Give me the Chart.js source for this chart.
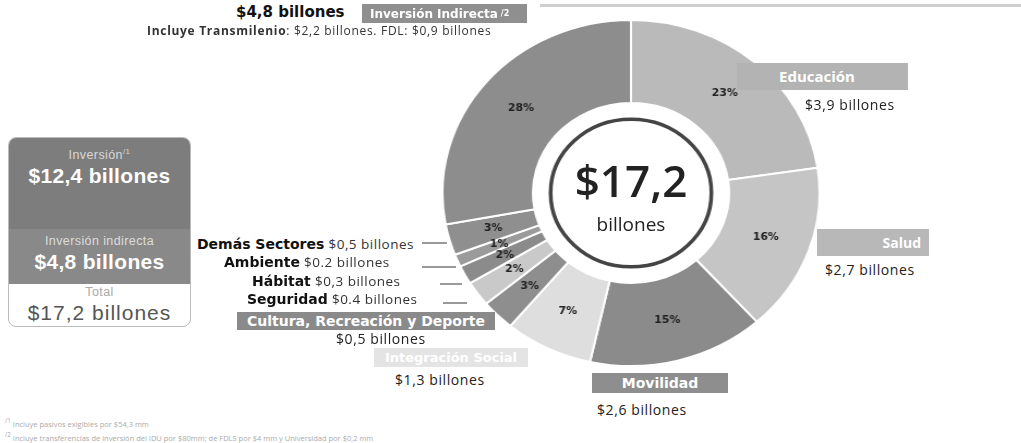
<!DOCTYPE html>
<html>
<head>
<meta charset="utf-8">
<script src="https://cdn.jsdelivr.net/npm/chart.js@4.4.1/dist/chart.umd.min.js"></script>
<style>
  html,body{margin:0;padding:0;background:#fff;}
  body{width:1021px;height:443px;position:relative;overflow:hidden;font-family:"Open Sans",sans-serif;color:#222;}
  .abs{position:absolute;white-space:nowrap;}
  .box{position:absolute;color:#fff;font-family:"DejaVu Sans",sans-serif;font-weight:bold;font-size:12px;line-height:1;display:flex;align-items:center;box-sizing:border-box;white-space:nowrap;}
  .val{font-family:"Open Sans",sans-serif;font-size:14px;letter-spacing:0.6px;color:#222;}
  .lbl b{font-family:"DejaVu Sans",sans-serif;font-size:14px;color:#111;}
  .lbl span{font-family:"Open Sans",sans-serif;font-size:13.5px;letter-spacing:0.5px;color:#333;}
  .ln{position:absolute;height:2px;background:#999;}
  #lbox{position:absolute;left:8px;top:137px;width:183px;height:190px;border:1px solid #bbb;border-radius:8px;overflow:hidden;box-sizing:border-box;font-family:"Liberation Sans",Arial,sans-serif;text-align:center;}
  #lbox .s{position:absolute;left:0;width:100%;}
  .sm{font-size:12.5px;letter-spacing:0.4px;}
  .big{font-size:21px;font-weight:bold;letter-spacing:0.3px;}
</style>
</head>
<body>
<div class="abs" style="left:540px;top:4px;width:481px;height:3px;background:#cfcfcf;"></div>

<div id="lbox">
  <div class="s" style="top:0;height:91px;background:#7d7d7d;"></div>
  <div class="s" style="top:91px;height:55px;background:#898989;"></div>
  <div class="abs sm" style="left:0;width:100%;top:9px;color:#d8d8d8;">Inversión<sup style="font-size:8px">/1</sup></div>
  <div class="abs big" style="left:0;width:100%;top:26px;color:#fff;">$12,4 billones</div>
  <div class="abs sm" style="left:0;width:100%;top:96px;color:#dcdcdc;">Inversión indirecta</div>
  <div class="abs big" style="left:0;width:100%;top:112px;color:#fff;">$4,8 billones</div>
  <div class="abs sm" style="left:0;width:100%;top:147px;color:#aaa;">Total</div>
  <div class="abs" style="left:0;width:100%;top:163px;color:#555;font-size:21px;letter-spacing:1px;">$17,2 billones</div>
</div>

<canvas id="c" width="348" height="348" style="position:absolute;left:457px;top:19px;width:348px;height:348px;transform:scaleX(1.09);transform-origin:50% 50%;"></canvas>

<div class="abs" style="left:556px;top:158px;width:150px;text-align:center;font-family:'Open Sans',sans-serif;font-size:44px;font-weight:600;color:#222;line-height:1;">$17,2</div>
<div class="abs" style="left:556px;top:211px;width:150px;text-align:center;font-family:'Open Sans',sans-serif;font-size:19px;color:#222;">billones</div>

<!-- top label -->
<div class="abs" style="left:236px;top:3px;font-family:'DejaVu Sans',sans-serif;font-weight:bold;font-size:15px;color:#111;">$4,8 billones</div>
<div class="box" style="left:362px;top:4px;width:165px;height:19px;background:#8f8f8f;padding-left:8px;">Inversión Indirecta<sup style="font-size:8px;margin-left:3px;">/2</sup></div>
<div class="abs" style="left:147px;top:22px;font-size:12px;letter-spacing:0.7px;color:#333;"><b>Incluye Transmilenio</b>: $2,2 billones. FDL: $0,9 billones</div>

<!-- right labels -->
<div class="box" style="left:737px;top:63px;width:171px;height:27px;background:#b3b3b3;padding-left:42px;font-family:'Open Sans',sans-serif;font-size:15px;">Educación</div>
<div class="abs val" style="left:805px;top:95px;">$3,9 billones</div>
<div class="box" style="left:817px;top:229px;width:112px;height:27px;background:#b8b8b8;justify-content:flex-end;padding-right:8px;font-family:'Open Sans',sans-serif;font-size:14px;">Salud</div>
<div class="abs val" style="left:825px;top:260px;">$2,7 billones</div>
<div class="box" style="left:592px;top:373px;width:136px;height:20px;background:#8e8e8e;justify-content:center;font-family:'DejaVu Sans',sans-serif;font-size:14px;">Movilidad</div>
<div class="abs val" style="left:597px;top:400px;">$2,6 billones</div>

<!-- bottom-left labels -->
<div class="box" style="left:374px;top:348px;width:154px;height:19px;background:#e4e4e4;justify-content:center;font-size:13px;">Integración Social</div>
<div class="abs val" style="left:395px;top:370px;">$1,3 billones</div>
<div class="box" style="left:237px;top:312px;width:258px;height:18px;background:#8a8a8a;justify-content:center;font-size:14px;">Cultura, Recreación y Deporte</div>
<div class="abs val" style="left:336px;top:329px;">$0,5 billones</div>

<div class="abs lbl" style="left:197px;top:232px;"><b>Demás Sectores</b> <span>$0,5 billones</span></div>
<div class="abs lbl" style="left:224px;top:250px;"><b>Ambiente</b> <span>$0.2 billones</span></div>
<div class="abs lbl" style="left:252px;top:269px;"><b>Hábitat</b> <span>$0,3 billones</span></div>
<div class="abs lbl" style="left:247px;top:287px;"><b>Seguridad</b> <span>$0.4 billones</span></div>
<div class="ln" style="left:422px;top:242px;width:25px;"></div>
<div class="ln" style="left:422px;top:266px;width:34px;"></div>
<div class="ln" style="left:440px;top:283px;width:22px;"></div>
<div class="ln" style="left:443px;top:302px;width:24px;"></div>

<div class="abs" style="left:5px;top:416px;font-size:7.5px;color:#aaa;"><sup>/1</sup> Incluye pasivos exigibles por $54,3 mm</div>
<div class="abs" style="left:5px;top:430px;font-size:7.5px;color:#aaa;"><sup>/2</sup> Incluye transferencias de inversión del IDU por $80mm; de FDLS por $4 mm y Universidad por $0,2 mm</div>

<script>
const categories = ["Educación","Salud","Movilidad","Integración Social","Cultura, Recreación y Deporte","Seguridad","Hábitat","Ambiente","Demás Sectores","Inversión Indirecta"];
const values = [3.9, 2.7, 2.6, 1.3, 0.5, 0.4, 0.3, 0.2, 0.5, 4.8];
const pctLabels = ["23%","16%","15%","7%","3%","2%","2%","1%","3%","28%"];
const colors = ["#bababa","#c5c5c5","#8b8b8b","#dedede","#8e8e8e","#c9c9c9","#8b8b8b","#9b9b9b","#8f8f8f","#8d8d8d"];

const overlay = {
  id: 'overlay',
  afterDatasetsDraw(chart) {
    const ctx = chart.ctx;
    const meta = chart.getDatasetMeta(0);
    const a0 = meta.data[0];
    ctx.save();
    ctx.beginPath();
    ctx.arc(a0.x, a0.y, a0.innerRadius * 0.82, 0, Math.PI * 2);
    ctx.lineWidth = 3.5;
    ctx.strokeStyle = '#444';
    ctx.stroke();
    ctx.fillStyle = '#222';
    ctx.font = 'bold 10px "DejaVu Sans"';
    ctx.textAlign = 'center';
    ctx.textBaseline = 'middle';
    meta.data.forEach((arc, i) => {
      const mid = (arc.startAngle + arc.endAngle) / 2;
      const r = (arc.innerRadius + arc.outerRadius) / 2;
      ctx.fillText(pctLabels[i], arc.x + Math.cos(mid) * r, arc.y + Math.sin(mid) * r);
    });
    ctx.restore();
  }
};

new Chart(document.getElementById('c'), {
  type: 'doughnut',
  data: {
    labels: categories,
    datasets: [{ data: values, backgroundColor: colors, borderColor: '#ffffff', borderWidth: 2 }]
  },
  options: {
    responsive: false,
    animation: false,
    cutout: '52%',
    layout: { padding: 0 },
    plugins: { legend: { display: false }, tooltip: { enabled: false } }
  },
  plugins: [overlay]
});
</script>
</body>
</html>
